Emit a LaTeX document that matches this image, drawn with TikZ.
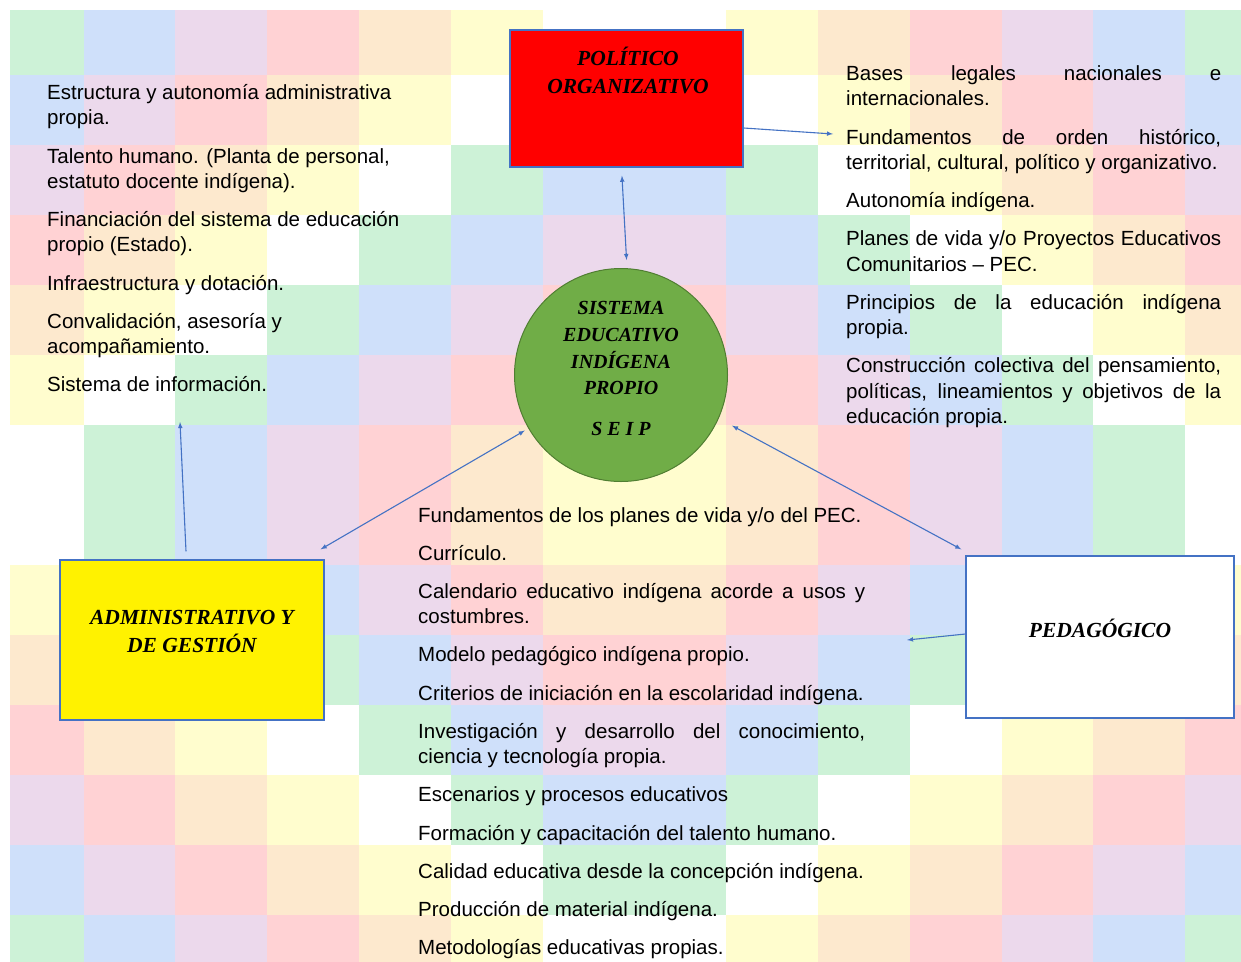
\documentclass[tikz,border=0pt]{standalone}
\usepackage{fontspec}
\setmainfont{Liberation Sans}
\newfontfamily\titlefont{Liberation Serif}
\usetikzlibrary{calc}

\hyphenpenalty=10000
\exhyphenpenalty=10000

\definecolor{wc0}{RGB}{205,242,215}
\definecolor{wc1}{RGB}{207,224,250}
\definecolor{wc2}{RGB}{236,217,236}
\definecolor{wc3}{RGB}{255,210,212}
\definecolor{wc4}{RGB}{253,233,206}
\definecolor{wc5}{RGB}{255,253,206}
\definecolor{wc6}{RGB}{255,255,255}
\definecolor{boxline}{RGB}{68,114,196}
\definecolor{linkblue}{RGB}{68,114,196}
\definecolor{seipgreen}{RGB}{112,173,71}
\definecolor{seipline}{RGB}{80,126,50}

\newcommand{\itemgap}{\par\vspace{12.9pt}}

\tikzset{
	box/.style={draw=boxline, line width=1.3pt, rectangle, inner sep=0pt},
	boxtitle/.style={font=\titlefont\bfseries\itshape\fontsize{21.5}{28}\selectfont,
		align=center, inner sep=0pt},
	itemlist/.style={font=\fontsize{20.5}{25.3}\selectfont, inner sep=0pt,
		anchor=base west},
	linkarrow/.style={draw=linkblue, line width=1.1pt, >=latex}
}

\begin{document}
\begin{tikzpicture}[x=1pt, y=-1pt]
	\def \cellw {91.8}
	\def \cellh {70}

	\useasboundingbox (0,0) rectangle (1241,961);
	\fill[white] (0,0) rectangle (1241,961);

	% wiphala background
	\begin{scope}
		\clip (10,10) rectangle (1241,961);
		\foreach \col in {0,...,13}{
			\foreach \row in {0,...,13}{
				\pgfmathtruncatemacro{\ci}{\col<7 ? \col : 13-\col}
				\pgfmathtruncatemacro{\ri}{\row<7 ? \row : 13-\row}
				\pgfmathtruncatemacro{\idx}{mod(\ci+\ri,7)}
				\fill[wc\idx] ({-8.3+\cellw*\col},{5+\cellh*\row})
					rectangle ++({\cellw+0.5},{\cellh+0.5});
			}
		}
	\end{scope}

	\node[box, fill=red, minimum width=233pt, minimum height=137pt] (polit)
		at (626.5,98.5) {};
	\node[box, fill=yellow, minimum width=264pt, minimum height=160pt] (admin)
		at (192,640) {};
	\node[box, fill=white, minimum width=268pt, minimum height=162pt] (pedag)
		at (1100,637) {};
	\node[draw=seipline, line width=1pt, fill=seipgreen, circle,
		minimum size=213pt, inner sep=0pt] (seip) at (621,375) {};

	\node[boxtitle] (polittitle) at (628,70) {POLÍTICO\\ORGANIZATIVO};
	\node[boxtitle] (admintitle) at (192,631.5) {ADMINISTRATIVO Y\\DE GESTIÓN};
	\node[boxtitle] (pedagtitle) at (1100,628) {PEDAGÓGICO};
	\node[boxtitle, font=\titlefont\bfseries\itshape\fontsize{20}{26.7}\selectfont]
		(seiptitle) at (621,368.5)
		{SISTEMA\\EDUCATIVO\\INDÍGENA\\PROPIO\\[14pt]S E I P};

	\node[itemlist, text width=358pt, align=flush left] (adminlist) at (47,99.5)
		{Estructura y autonomía administrativa propia.\itemgap
		Talento humano. (Planta de personal, estatuto docente indígena).\itemgap
		Financiación del sistema de educación propio (Estado).\itemgap
		Infraestructura y dotación.\itemgap
		Convalidación, asesoría y acompañamiento.\itemgap
		Sistema de información.};

	\node[itemlist, text width=375pt, align=justify] (politlist) at (846,80.5)
		{Bases legales nacionales e internacionales.\itemgap
		Fundamentos de orden histórico, territorial, cultural, político y organizativo.\itemgap
		Autonomía indígena.\itemgap
		Planes de vida y/o Proyectos Educativos Comunitarios – PEC.\itemgap
		Principios de la educación indígena propia.\itemgap
		Construcción colectiva del pensamiento, políticas, lineamientos y objetivos de la educación propia.};

	\node[itemlist, text width=447pt, align=justify] (pedaglist) at (418,522)
		{Fundamentos de los planes de vida y/o del PEC.\itemgap
		Currículo.\itemgap
		Calendario educativo indígena acorde a usos y costumbres.\itemgap
		Modelo pedagógico indígena propio.\itemgap
		Criterios de iniciación en la escolaridad indígena.\itemgap
		Investigación y desarrollo del conocimiento, ciencia y tecnología propia.\itemgap
		Escenarios y procesos educativos\itemgap
		Formación y capacitación del talento humano.\itemgap
		Calidad educativa desde la concepción indígena.\itemgap
		Producción de material indígena.\itemgap
		Metodologías educativas propias.};

	\coordinate (histtip) at (833,134);
	\coordinate (admtip) at (180,422);
	\coordinate (pedtip) at (907,640);

	\draw[linkarrow, <->, shorten <=8pt, shorten >=8pt]
		([xshift=-5pt]polit.south) -- ([xshift=6pt]seip.north);
	\draw[linkarrow, ->] ([yshift=-29.5pt]polit.east) -- (histtip);
	\draw[linkarrow, <->, shorten <=4pt]
		(seip.210) -- ([shift={(-4pt,10pt)}]admin.north east);
	\draw[linkarrow, <->, shorten <=15pt]
		(seip.336) -- ([shift={(-4pt,6pt)}]pedag.north west);
	\draw[linkarrow, ->] ([shift={(-6pt,8pt)}]admin.north) -- (admtip);
	\draw[linkarrow, ->] ([yshift=3pt]pedag.west) -- (pedtip);
\end{tikzpicture}
\end{document}
